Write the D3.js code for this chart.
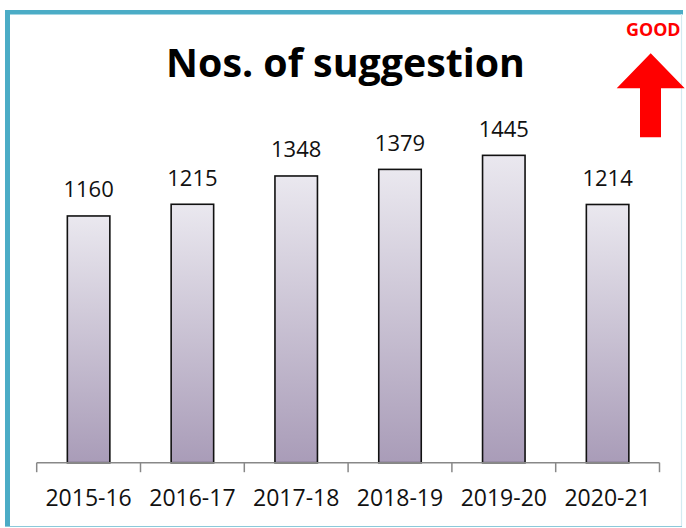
<!DOCTYPE html>
<html><head><meta charset="utf-8">
<script src="https://cdn.jsdelivr.net/npm/d3@7/dist/d3.min.js"></script>
<style>html,body{margin:0;padding:0;background:#fff;}svg{display:block;}</style>
</head><body>
<script>
const categories = ["2015-16","2016-17","2017-18","2018-19","2019-20","2020-21"];
const values = [1160,1215,1348,1379,1445,1214];
const titleText = "Nos. of suggestion";
const badgeText = "GOOD";

const W = 686, H = 528;
const svg = d3.select("body").append("svg").attr("width", W).attr("height", H);
const font = "'Open Sans', 'Noto Sans', sans-serif";

const defs = svg.append("defs");
const grad = defs.append("linearGradient").attr("id","barGrad").attr("x1",0).attr("y1",0).attr("x2",0).attr("y2",1);
grad.append("stop").attr("offset","0%").attr("stop-color","#eae8ef");
grad.append("stop").attr("offset","100%").attr("stop-color","#a99cb8");

// frame
svg.append("rect").attr("x",5).attr("y",10).attr("width",678).attr("height",4.5).attr("fill","#4bacc6");
svg.append("rect").attr("x",5).attr("y",10).attr("width",5).attr("height",517).attr("fill","#4bacc6");
svg.append("line").attr("x1",681.5).attr("x2",681.5).attr("y1",14).attr("y2",527).attr("stroke","#d4ebf1").attr("stroke-width",1.2);
svg.append("line").attr("x1",5).attr("x2",682).attr("y1",526.5).attr("y2",526.5).attr("stroke","#8cc9da").attr("stroke-width",1.2);

const x = d3.scaleBand().domain(categories).range([36.7, 659.5]).paddingInner(0).paddingOuter(0);
const y = d3.scaleLinear().domain([0, 2000]).range([462.7, 37.3]);
const bw = 42.5;

svg.append("g").selectAll("rect").data(values).join("rect")
  .attr("x",(d,i)=>x(categories[i]) + x.bandwidth()/2 - bw/2)
  .attr("y",d=>y(d))
  .attr("width",bw)
  .attr("height",d=>y(0)-y(d))
  .attr("fill","url(#barGrad)")
  .attr("stroke","#111").attr("stroke-width",1.6);

// axis
const axis = d3.axisBottom(x).tickSize(0).tickFormat("");
const gx = svg.append("g").attr("transform",`translate(0,${y(0)})`).call(axis);
gx.select(".domain").attr("stroke","#888").attr("stroke-width",1.5).attr("d",`M36.7,0H659.5`);
const edges = categories.map(c=>x(c)).concat([x.range()[1]]);
gx.selectAll(".edge").data(edges).join("line").attr("class","edge")
  .attr("x1",d=>d).attr("x2",d=>d).attr("y1",0).attr("y2",9.5)
  .attr("stroke","#888").attr("stroke-width",1.5);
gx.selectAll(".lbl").data(categories).join("text").attr("class","lbl")
  .attr("x",d=>x(d)+x.bandwidth()/2).attr("y",506-462.7)
  .attr("text-anchor","middle").attr("font-family",font).attr("font-size",23).attr("fill","#111")
  .text(d=>d);

// value labels
svg.append("g").selectAll("text").data(values).join("text")
  .attr("x",(d,i)=>x(categories[i])+x.bandwidth()/2)
  .attr("y",d=>y(d)-18.7)
  .attr("text-anchor","middle").attr("font-family",font).attr("font-size",22).attr("fill","#111")
  .text(d=>d);

// title
const t = svg.append("text").attr("x",345.5).attr("y",76.7).attr("text-anchor","middle")
  .attr("font-family",font).attr("font-weight","bold").attr("font-size",40).attr("fill","#000").text(titleText);
const tw = t.node().getComputedTextLength();
t.attr("font-size", 40*359/tw);

// GOOD badge
const g = svg.append("text").attr("x",653.3).attr("y",36).attr("text-anchor","middle")
  .attr("font-family",font).attr("font-weight","bold").attr("font-size",16).attr("fill","#ff0000").text(badgeText);
const gw = g.node().getComputedTextLength();
g.attr("font-size", 16*54.7/gw);

// arrow
svg.append("path").attr("fill","#ff0000")
  .attr("d","M650.7,53.3 L684.7,88.3 L661,88.3 L661,137.3 L640,137.3 L640,88.3 L616.7,88.3 Z");
</script>
</body></html>
